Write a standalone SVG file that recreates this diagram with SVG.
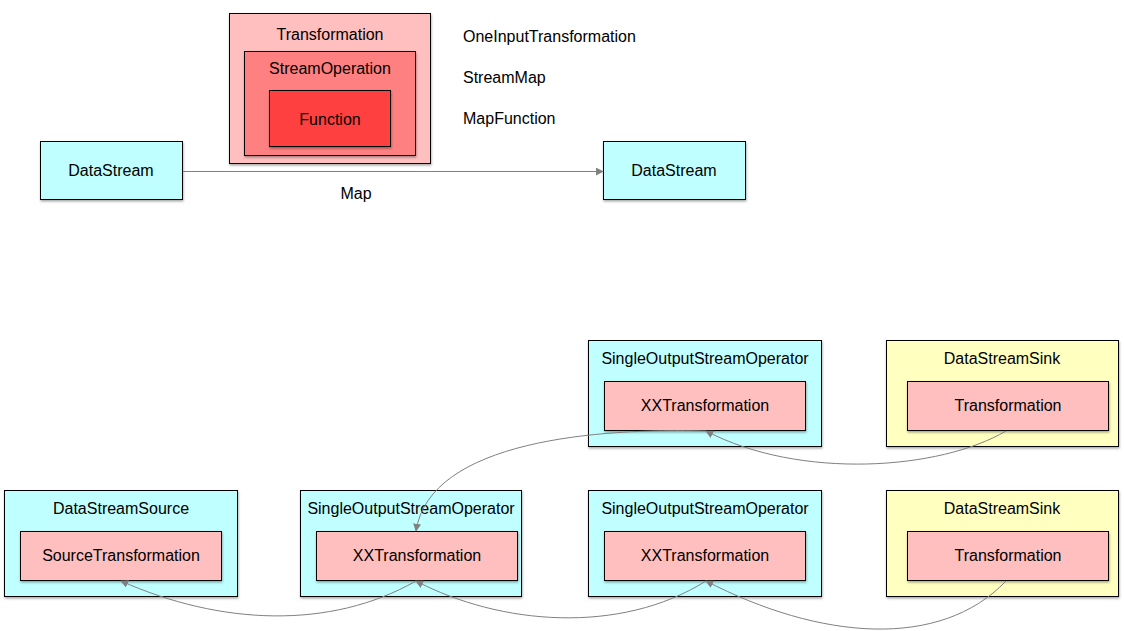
<svg xmlns="http://www.w3.org/2000/svg" width="1124" height="631" viewBox="0 0 1124 631">
<defs>
<filter id="sh" x="-10%" y="-10%" width="120%" height="130%">
<feDropShadow dx="0.5" dy="1.5" stdDeviation="1" flood-color="#000" flood-opacity="0.35"/>
</filter>
<marker id="ah" viewBox="0 0 10 10" refX="9" refY="5" markerWidth="8" markerHeight="8" markerUnits="userSpaceOnUse" orient="auto">
<path d="M0,0 L10,5 L0,10 z" fill="#808080"/>
</marker>
</defs>
<style>
text{font-family:"Liberation Sans",Arial,sans-serif;font-size:16px;fill:#000;text-anchor:middle;dominant-baseline:central}
.b{stroke:#000;stroke-width:1;filter:url(#sh)}
.cy{fill:#bfffff}
.pk{fill:#ffbfbf}
.yl{fill:#ffffc0}
.md{fill:#ff8080}
.rd{fill:#ff4040}
.c{fill:none;stroke:#808080;stroke-width:1;marker-end:url(#ah)}
.l{text-anchor:start}
</style>
<g id="transformation">
<rect class="b pk" x="229.5" y="13.5" width="201" height="150"/>
<text x="330" y="34">Transformation</text>
</g>
<g id="streamoperation">
<rect class="b md" x="244.5" y="51.5" width="171" height="104"/>
<text x="330" y="68">StreamOperation</text>
</g>
<g id="function">
<rect class="b rd" x="269.5" y="90.5" width="121" height="56"/>
<text x="330" y="119">Function</text>
</g>
<g id="labels">
<text class="l" x="463" y="36">OneInputTransformation</text>
<text class="l" x="463" y="77">StreamMap</text>
<text class="l" x="463" y="118">MapFunction</text>
<text x="356" y="193">Map</text>
</g>
<g id="ds1">
<rect class="b cy" x="40.5" y="141.5" width="142" height="58"/>
<text x="111" y="170">DataStream</text>
</g>
<g id="ds2">
<rect class="b cy" x="603.5" y="141.5" width="142" height="58"/>
<text x="674" y="170">DataStream</text>
</g>
<g id="sop-upper">
<rect class="b cy" x="588.5" y="340.5" width="233" height="106"/>
<text x="705" y="358">SingleOutputStreamOperator</text>
<rect class="b pk" x="604.5" y="381.5" width="201" height="49"/>
<text x="705" y="405">XXTransformation</text>
</g>
<g id="sink-upper">
<rect class="b yl" x="886.5" y="340.5" width="232" height="106"/>
<text x="1002" y="358">DataStreamSink</text>
<rect class="b pk" x="907.5" y="381.5" width="201" height="49"/>
<text x="1008" y="405">Transformation</text>
</g>
<g id="source">
<rect class="b cy" x="4.5" y="490.5" width="233" height="106"/>
<text x="121" y="508">DataStreamSource</text>
<rect class="b pk" x="20.5" y="531.5" width="201" height="49"/>
<text x="121" y="555">SourceTransformation</text>
</g>
<g id="sop-mid">
<rect class="b cy" x="300.5" y="490.5" width="221" height="106"/>
<text x="411" y="508">SingleOutputStreamOperator</text>
<rect class="b pk" x="316.5" y="531.5" width="201" height="49"/>
<text x="417" y="555">XXTransformation</text>
</g>
<g id="sop-lower">
<rect class="b cy" x="588.5" y="490.5" width="233" height="106"/>
<text x="705" y="508">SingleOutputStreamOperator</text>
<rect class="b pk" x="604.5" y="531.5" width="201" height="49"/>
<text x="705" y="555">XXTransformation</text>
</g>
<g id="sink-lower">
<rect class="b yl" x="886.5" y="490.5" width="232" height="106"/>
<text x="1002" y="508">DataStreamSink</text>
<rect class="b pk" x="907.5" y="531.5" width="201" height="49"/>
<text x="1008" y="555">Transformation</text>
</g>
<g id="connectors">
<path class="c" d="M183,171.5 L603,171.5"/>
<path class="c" d="M1006,431 C940,470 800,480 706,431"/>
<path class="c" d="M706,431 C600,428 430,440 416,531"/>
<path class="c" d="M1006,581 C940,650 820,640 706,581"/>
<path class="c" d="M706,581 C620,635 500,625 416,581"/>
<path class="c" d="M416,581 C330,630 220,625 121,581"/>
</g>
</svg>
